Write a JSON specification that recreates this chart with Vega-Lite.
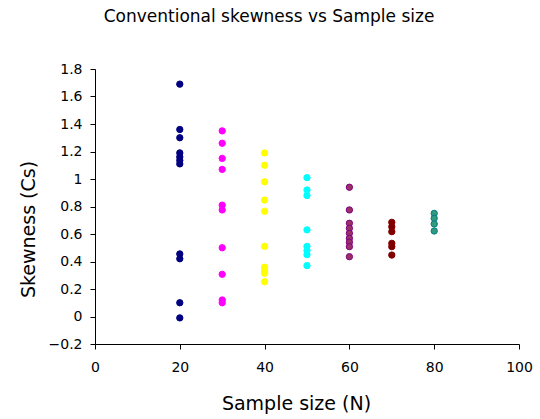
{
  "$schema": "https://vega.github.io/schema/vega-lite/v6.json",
  "width": 424,
  "height": 275,
  "autosize": {"type": "none"},
  "padding": {"left": 95, "top": 69, "right": 21, "bottom": 75},
  "background": "white",
  "title": {
    "text": "Conventional skewness vs Sample size",
    "font": "DejaVu Sans",
    "fontSize": 17,
    "fontWeight": "normal",
    "color": "#000000",
    "anchor": "middle",
    "offset": 36,
    "dx": -38
  },
  "config": {
    "view": {"stroke": null},
    "axis": {
      "grid": false,
      "labelFlush": false,
      "domainColor": "#000000",
      "tickColor": "#000000",
      "labelColor": "#000000",
      "titleColor": "#000000",
      "labelFont": "DejaVu Sans",
      "titleFont": "DejaVu Sans",
      "labelFontSize": 14,
      "titleFontSize": 19,
      "titleFontWeight": "normal",
      "tickSize": 5,
      "domainWidth": 1,
      "tickWidth": 1
    }
  },
  "data": {
    "values": [
      {"N": 20, "Cs": 1.69}, {"N": 20, "Cs": 1.36}, {"N": 20, "Cs": 1.30}, {"N": 20, "Cs": 1.19},
      {"N": 20, "Cs": 1.16}, {"N": 20, "Cs": 1.135}, {"N": 20, "Cs": 1.11}, {"N": 20, "Cs": 0.455},
      {"N": 20, "Cs": 0.42}, {"N": 20, "Cs": 0.10}, {"N": 20, "Cs": -0.01},
      {"N": 30, "Cs": 1.35}, {"N": 30, "Cs": 1.26}, {"N": 30, "Cs": 1.15}, {"N": 30, "Cs": 1.07},
      {"N": 30, "Cs": 0.81}, {"N": 30, "Cs": 0.775}, {"N": 30, "Cs": 0.50}, {"N": 30, "Cs": 0.307},
      {"N": 30, "Cs": 0.12}, {"N": 30, "Cs": 0.10},
      {"N": 40, "Cs": 1.19}, {"N": 40, "Cs": 1.10}, {"N": 40, "Cs": 0.98}, {"N": 40, "Cs": 0.847},
      {"N": 40, "Cs": 0.765}, {"N": 40, "Cs": 0.51}, {"N": 40, "Cs": 0.358}, {"N": 40, "Cs": 0.335},
      {"N": 40, "Cs": 0.314}, {"N": 40, "Cs": 0.253},
      {"N": 50, "Cs": 1.01}, {"N": 50, "Cs": 0.92}, {"N": 50, "Cs": 0.88}, {"N": 50, "Cs": 0.63},
      {"N": 50, "Cs": 0.51}, {"N": 50, "Cs": 0.48}, {"N": 50, "Cs": 0.45}, {"N": 50, "Cs": 0.37},
      {"N": 60, "Cs": 0.94}, {"N": 60, "Cs": 0.775}, {"N": 60, "Cs": 0.678}, {"N": 60, "Cs": 0.641},
      {"N": 60, "Cs": 0.605}, {"N": 60, "Cs": 0.569}, {"N": 60, "Cs": 0.54}, {"N": 60, "Cs": 0.508},
      {"N": 60, "Cs": 0.435},
      {"N": 70, "Cs": 0.685}, {"N": 70, "Cs": 0.653}, {"N": 70, "Cs": 0.617}, {"N": 70, "Cs": 0.532},
      {"N": 70, "Cs": 0.508}, {"N": 70, "Cs": 0.447},
      {"N": 80, "Cs": 0.75}, {"N": 80, "Cs": 0.714}, {"N": 80, "Cs": 0.673}, {"N": 80, "Cs": 0.622}
    ]
  },
  "mark": {"type": "point", "shape": "circle", "filled": true, "size": 40, "strokeWidth": 1, "opacity": 1},
  "encoding": {
    "x": {
      "field": "N",
      "type": "quantitative",
      "scale": {"domain": [0, 100], "nice": false, "zero": false},
      "axis": {"values": [0, 20, 40, 60, 80, 100], "title": "Sample size (N)", "labelPadding": 11, "titlePadding": 20, "titleX": 201}
    },
    "y": {
      "field": "Cs",
      "type": "quantitative",
      "scale": {"domain": [-0.2, 1.8], "nice": false, "zero": false},
      "axis": {"values": [-0.2, 0, 0.2, 0.4, 0.6, 0.8, 1, 1.2, 1.4, 1.6, 1.8], "format": "~g", "title": "Skewness (Cs)", "labelPadding": 8, "titlePadding": 10, "titleY": 160}
    },
    "fill": {
      "field": "N",
      "type": "nominal",
      "scale": {"domain": [20, 30, 40, 50, 60, 70, 80], "range": ["#000080", "#FF00FF", "#FFFF00", "#00FFFF", "#993366", "#800000", "#339980"]},
      "legend": null
    },
    "stroke": {
      "field": "N",
      "type": "nominal",
      "scale": {"domain": [20, 30, 40, 50, 60, 70, 80], "range": ["#000080", "#FF00FF", "#FFFF00", "#00FFFF", "#800080", "#800000", "#008080"]},
      "legend": null
    }
  }
}
